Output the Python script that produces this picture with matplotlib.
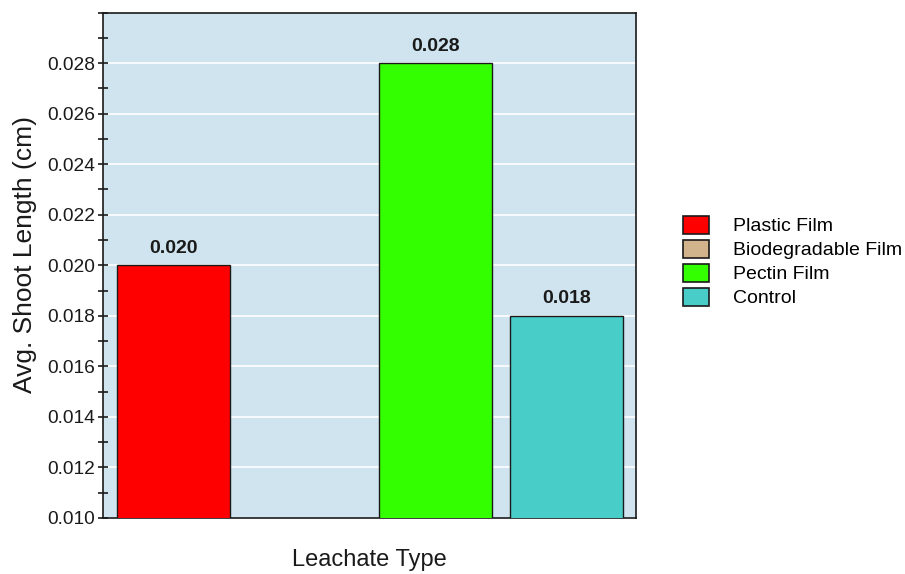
import matplotlib
matplotlib.use("Agg")
import matplotlib.pyplot as plt
from matplotlib.ticker import MultipleLocator
from matplotlib.patches import Patch

plt.rcParams['font.family'] = ['Liberation Sans', 'DejaVu Sans']

categories = ["Plastic Film", "Biodegradable Film", "Pectin Film", "Control"]
values = [0.020, 0.0, 0.028, 0.018]
labels = ["0.020", None, "0.028", "0.018"]
colors = ["#ff0000", "#d2b48c", "#33ff00", "#48cdc8"]
yticks = [0.010, 0.012, 0.014, 0.016, 0.018, 0.020, 0.022, 0.024, 0.026, 0.028]

fig = plt.figure(figsize=(9.05, 5.74), dpi=100)
ax = fig.add_axes([0.1138, 0.0976, 0.589, 0.8806])
ax.set_facecolor("#cfe4ee")

x = list(range(len(categories)))
ax.bar(x, values, width=0.863, color=colors, edgecolor="#1a1a1a",
       linewidth=1.0, zorder=3)

for xi, v, lab in zip(x, values, labels):
    if lab is not None:
        ax.annotate(lab, (xi, v), xytext=(0, 6), textcoords="offset points",
                    ha="center", va="bottom", fontsize=14, fontweight="bold",
                    color="#1a1a1a")

ax.set_ylim(0.010, 0.030)
ax.set_xlim(-0.538, 3.53)
ax.set_yticks(yticks)
ax.set_yticklabels([f"{t:.3f}" for t in yticks])
ax.yaxis.set_minor_locator(MultipleLocator(0.001))
ax.set_xticks([])
ax.tick_params(axis="y", which="both", direction="inout", length=7,
               width=1.2, labelsize=13.8, colors="#1a1a1a", pad=2)
ax.grid(axis="y", which="major", color="white", linewidth=1.2, zorder=1)
for s in ax.spines.values():
    s.set_color("#1a1a1a")
    s.set_linewidth(1.2)

ax.set_ylabel("Avg. Shoot Length (cm)", fontsize=19, color="#1a1a1a")
ax.yaxis.set_label_coords(-0.124, 0.522)
ax.set_xlabel("Leachate Type", fontsize=17, color="#1a1a1a", labelpad=22)

handles = [Patch(facecolor=c, edgecolor="#1a1a1a", linewidth=1.2) for c in colors]
fig.legend(handles, categories, loc="center left", bbox_to_anchor=(0.735, 0.5444),
           frameon=False, fontsize=14, handlelength=1.34, handleheight=1.05,
           labelspacing=0.22, handletextpad=1.24, borderpad=0.4)

fig.savefig("out.png", dpi=100)
